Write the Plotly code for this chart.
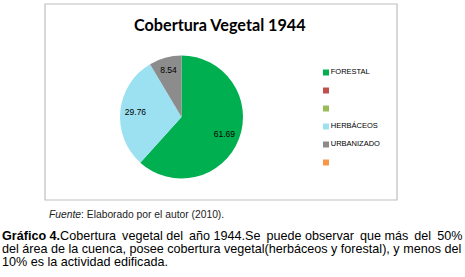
import plotly.graph_objects as go

W, H = 465, 277

categories = ["FORESTAL", "", "", "HERBÁCEOS", "URBANIZADO", ""]
values = [61.69, 0, 0, 29.76, 8.54, 0]
colors = ["#00B050", "#C0504D", "#9BBB59", "#9CE1F2", "#8C8C8C", "#F79646"]
slice_ids = ["FORESTAL", "s2", "s3", "HERBÁCEOS", "URBANIZADO", "s6"]

title_text = "Cobertura Vegetal 1944"
source_text = "<i>Fuente</i>: Elaborado por el autor (2010)."
T = "\u2009"  # thin space, used to imitate the justified first line
caption_lines = [
    f"<b>Gráfico 4.</b>Cobertura {T}vegetal del {T}año 1944.Se {T}puede observar {T}que más {T}del {T}50%",
    "del área de la cuenca, posee cobertura vegetal(herbáceos y forestal), y menos del",
    "10% es la actividad edificada.",
]

def px(x):
    return x / W

def py(y):
    return 1 - y / H

pie_domain = dict(x=[px(120), px(243)], y=[py(178.5), py(55.5)])

fig = go.Figure()

# coloured pie
fig.add_trace(go.Pie(
    labels=slice_ids, values=values,
    marker=dict(colors=colors, line=dict(width=0)),
    sort=False, direction="clockwise", rotation=0,
    textinfo="none", domain=pie_domain, showlegend=False,
    hovertext=categories, hoverinfo="text+value",
))

# transparent ring carrying the value labels (places them ~3/4 of radius out)
fig.add_trace(go.Pie(
    labels=slice_ids, values=values,
    marker=dict(colors=["rgba(0,0,0,0)"] * len(values), line=dict(width=0)),
    sort=False, direction="clockwise", rotation=0, hole=0.5,
    text=[f"{v:.2f}" if v else "" for v in values],
    textinfo="text", textposition="inside",
    insidetextorientation="horizontal",
    textfont=dict(family="Liberation Sans", size=8.5, color="black"),
    domain=pie_domain, showlegend=False, hoverinfo="skip",
))

# legend drawn as a scatter on hidden axes
fig.add_trace(go.Scatter(
    x=[0] * len(categories), y=list(range(len(categories))),
    mode="markers+text", text=categories, textposition="middle right",
    marker=dict(symbol="square", size=6, color=colors),
    textfont=dict(family="Liberation Sans", size=7.5, color="black"),
    showlegend=False, hoverinfo="skip", cliponaxis=False,
))

y0 = 72.5
step = 18
fig.update_layout(
    width=W, height=H,
    margin=dict(l=0, r=0, t=0, b=0),
    paper_bgcolor="white", plot_bgcolor="rgba(0,0,0,0)",
    xaxis=dict(visible=False, domain=[px(316), px(416)], range=[-10, 90], fixedrange=True),
    yaxis=dict(visible=False, domain=[py(y0 + step * 5 + step / 2), py(y0 - step / 2)],
               range=[5.5, -0.5], fixedrange=True),
    showlegend=False,
    shapes=[dict(
        type="rect", xref="paper", yref="paper",
        x0=px(45), x1=px(397), y0=py(200), y1=py(4),
        line=dict(color="#BFBFBF", width=1.2), fillcolor="rgba(0,0,0,0)",
    )],
    annotations=[
        dict(text=f"<b>{title_text}</b>", x=px(220), y=py(24), xref="paper", yref="paper",
             showarrow=False, xanchor="center", yanchor="middle",
             font=dict(family="Lato", size=16.2, color="black")),
        dict(text=source_text, x=px(47), y=py(214.5), xref="paper", yref="paper",
             showarrow=False, xanchor="left", yanchor="middle",
             font=dict(family="Liberation Sans", size=10.3, color="#222222")),
    ] + [
        dict(text=line, x=0, y=py(236 + 13 * i), xref="paper", yref="paper",
             showarrow=False, xanchor="left", yanchor="middle",
             font=dict(family="Liberation Sans", size=12.6, color="black"))
        for i, line in enumerate(caption_lines)
    ],
)

fig.write_html("out.html", config={"displayModeBar": False},
               post_script="document.body.style.margin='0';")
